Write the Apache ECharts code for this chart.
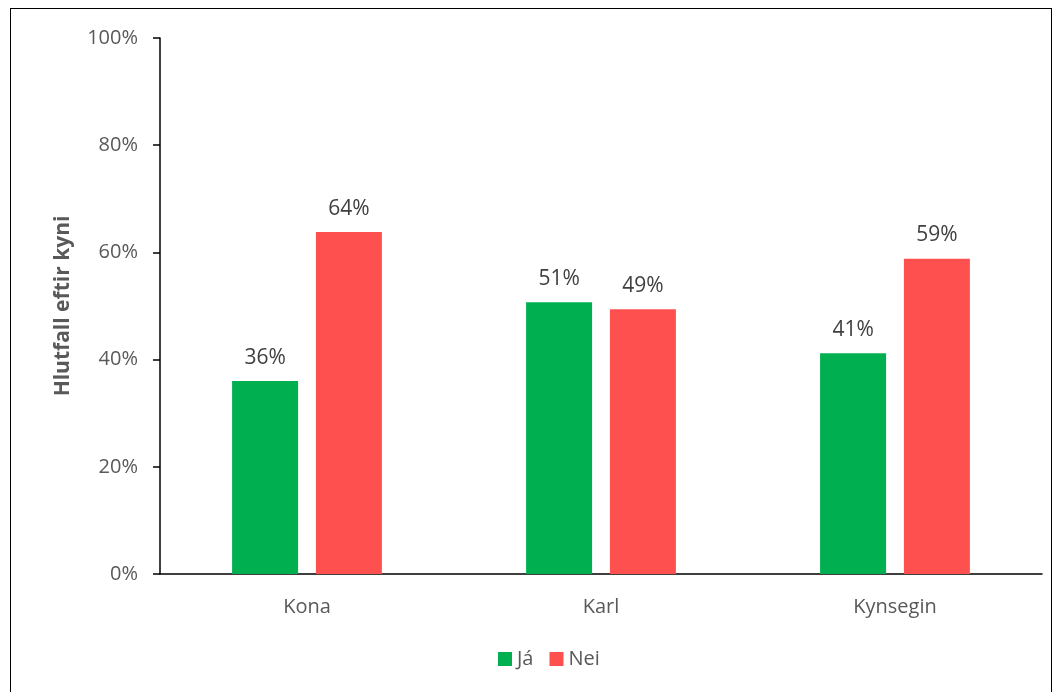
<!DOCTYPE html>
<html><head><meta charset="utf-8">
<script src="https://cdn.jsdelivr.net/npm/echarts@6/dist/echarts.min.js"></script>
<style>html,body{margin:0;padding:0;background:#fff}#c{width:1060px;height:692px}
#frame{position:absolute;left:10px;top:8px;width:1042px;height:700px;border:1.5px solid #000;box-sizing:border-box;pointer-events:none}</style>
</head><body><div id="c"></div><div id="frame"></div>
<script>
const categories = ['Kona', 'Karl', 'Kynsegin'];
const jaValues = [36.0, 50.7, 41.2];
const neiValues = [63.8, 49.4, 58.8];
const yTicks = [0, 20, 40, 60, 80, 100];

const chart = echarts.init(document.getElementById('c'));
const font = 'Open Sans';
chart.setOption({
  animation: false,
  textStyle: { fontFamily: font },
  grid: { left: 160, right: 18, top: 38, bottom: 118 },
  legend: {
    bottom: 18, left: 493, itemWidth: 14, itemHeight: 14, itemGap: 16,
    icon: 'rect',
    textStyle: { fontFamily: font, fontSize: 20, color: '#595959' },
    data: ['Já', 'Nei']
  },
  xAxis: {
    type: 'category', data: categories,
    axisLine: { lineStyle: { color: '#000', width: 1.5 } },
    axisTick: { show: false },
    axisLabel: { fontFamily: font, fontSize: 20, color: '#595959', margin: 23 }
  },
  yAxis: {
    type: 'value', min: 0, max: 100, interval: 20,
    name: 'Hlutfall eftir kyni', nameLocation: 'middle', nameGap: 86,
    nameTextStyle: { fontFamily: font, fontSize: 21, fontWeight: 'bold', color: '#595959' },
    axisLine: { show: true, lineStyle: { color: '#000', width: 1.5 } },
    axisTick: { show: true, inside: false, length: 7, lineStyle: { color: '#000', width: 1.5 } },
    splitLine: { show: false },
    axisLabel: {
      fontFamily: font, fontSize: 20, color: '#595959', margin: 22,
      formatter: v => yTicks.includes(v) ? v + '%' : ''
    }
  },
  series: [
    {
      name: 'Já', type: 'bar', data: jaValues, barWidth: 66, barGap: '27%',
      itemStyle: { color: '#00B050' },
      label: { show: true, position: 'top', distance: 13, fontFamily: font, fontSize: 21, color: '#404040',
        formatter: p => Math.round(p.value) + '%' }
    },
    {
      name: 'Nei', type: 'bar', data: neiValues, barWidth: 66,
      itemStyle: { color: '#FF5050' },
      label: { show: true, position: 'top', distance: 13, fontFamily: font, fontSize: 21, color: '#404040',
        formatter: p => Math.round(p.value) + '%' }
    }
  ]
});
</script></body></html>
